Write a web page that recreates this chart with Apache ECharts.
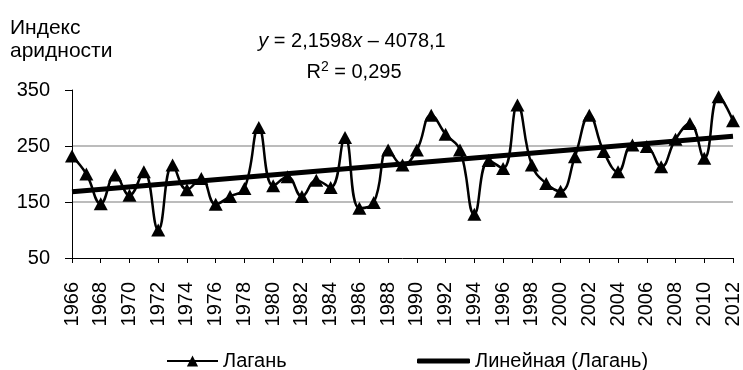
<!DOCTYPE html>
<html>
<head>
<meta charset="utf-8">
<script src="https://cdn.jsdelivr.net/npm/echarts@6/dist/echarts.min.js"></script>
<style>
  html, body { margin: 0; padding: 0; background: #fff; }
  #chart { width: 743px; height: 370px; }
</style>
</head>
<body>
<div id="chart"></div>
<script>
// годы
var years = ['1966','1967','1968','1969','1970','1971','1972','1973','1974','1975',
  '1976','1977','1978','1979','1980','1981','1982','1983','1984','1985',
  '1986','1987','1988','1989','1990','1991','1992','1993','1994','1995',
  '1996','1997','1998','1999','2000','2001','2002','2003','2004','2005',
  '2006','2007','2008','2009','2010','2011','2012'];
// индекс аридности, Лагань
var lagan = [232, 200, 147, 198, 162, 204, 100, 216, 172, 192,
  146, 160, 174, 283, 179, 195, 160, 189, 176, 265,
  139, 149, 243, 216, 243, 305, 271, 243, 128, 224,
  210, 323, 216, 183, 169, 231, 305, 240, 204, 252,
  249, 213, 262, 290, 228, 338, 295];
// линейный тренд: концы линии (y = 2,1598x - 4078,1)
var trendYears = ['1966', '2012'];
var trendValues = [168.1, 267.4];
var yTicks = [50, 150, 250, 350];

var font = '"Liberation Sans", Arial, sans-serif';
var myChart = echarts.init(document.getElementById('chart'));

var legendText = { fontFamily: font, fontSize: 20, color: '#000' };

var option = {
  backgroundColor: '#fff',
  animation: false,
  textStyle: { fontFamily: font, color: '#000' },
  title: {
    text: 'Индекс\nаридности',
    left: 5,
    top: 12,
    textStyle: { fontFamily: font, fontSize: 21, fontWeight: 'normal', color: '#000', lineHeight: 23 }
  },
  graphic: [
    {
      type: 'text',
      x: 352,
      y: 41,
      style: {
        text: '{i|y} = 2,1598{i|x} – 4078,1',
        align: 'center',
        verticalAlign: 'middle',
        fontFamily: font,
        fontSize: 20,
        fill: '#000',
        rich: { i: { fontStyle: 'italic', fontFamily: font, fontSize: 20 } }
      }
    },
    {
      type: 'text',
      x: 354,
      y: 72,
      style: {
        text: 'R{s|2} = 0,295',
        align: 'center',
        verticalAlign: 'middle',
        fontFamily: font,
        fontSize: 20,
        fill: '#000',
        rich: { s: { fontSize: 14, fontFamily: font, verticalAlign: 'top', padding: [0, 0, 10, 0] } }
      }
    }
  ],
  legend: [
    {
      left: 161,
      top: 346,
      itemWidth: 51,
      itemHeight: 14,
      selectedMode: false,
      textStyle: legendText,
      data: ['Лагань']
    },
    {
      left: 412,
      top: 346,
      itemWidth: 53,
      itemHeight: 5,
      icon: 'roundRect',
      selectedMode: false,
      textStyle: legendText,
      data: ['Линейная (Лагань)']
    }
  ],
  grid: { left: 72, right: 10, top: 90, bottom: 112, containLabel: false },
  xAxis: {
    type: 'category',
    data: years,
    boundaryGap: false,
    axisLine: { lineStyle: { color: '#000', width: 1 } },
    axisTick: { interval: 1, length: 5, lineStyle: { color: '#000' } },
    axisLabel: { interval: 1, rotate: 90, margin: 24, fontSize: 20, color: '#000', fontFamily: font }
  },
  yAxis: {
    type: 'value',
    min: yTicks[0],
    max: yTicks[yTicks.length - 1],
    interval: 100,
    axisLine: { show: true, lineStyle: { color: '#000', width: 1 } },
    axisTick: { show: true, length: 7, lineStyle: { color: '#000' } },
    axisLabel: { margin: 22, fontSize: 20, color: '#000', fontFamily: font },
    splitLine: {
      show: true,
      lineStyle: { color: ['rgba(0,0,0,0)', '#a6a6a6', '#a6a6a6', 'rgba(0,0,0,0)'], width: 1.5 }
    }
  },
  series: [
    {
      name: 'Лагань',
      type: 'line',
      data: lagan,
      smooth: 0.45,
      showAllSymbol: true,
      symbol: 'triangle',
      symbolSize: [14, 13],
      itemStyle: { color: '#000' },
      lineStyle: { color: '#000', width: 2.5 },
      z: 3
    },
    {
      name: 'Линейная (Лагань)',
      type: 'line',
      data: trendYears.map(function (y, i) { return [y, trendValues[i]]; }),
      symbol: 'none',
      itemStyle: { color: '#000' },
      lineStyle: { color: '#000', width: 5 },
      z: 2
    }
  ]
};
myChart.setOption(option);
</script>
</body>
</html>
